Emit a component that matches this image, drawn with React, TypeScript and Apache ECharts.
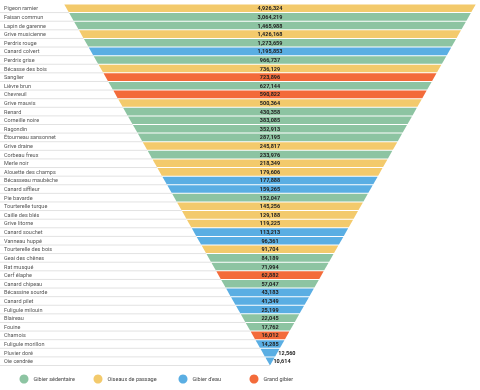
import React, { useEffect, useRef } from "react";
import * as echarts from "echarts";

const names = [
  "Pigeon ramier", "Faisan commun", "Lapin de garenne", "Grive musicienne", "Perdrix rouge",
  "Canard colvert", "Perdrix grise", "Bécasse des bois", "Sanglier", "Lièvre brun",
  "Chevreuil", "Grive mauvis", "Renard", "Corneille noire", "Ragondin",
  "Étourneau sansonnet", "Grive draine", "Corbeau freux", "Merle noir", "Alouette des champs",
  "Bécasseau maubèche", "Canard siffleur", "Pie bavarde", "Tourterelle turque", "Caille des blés",
  "Grive litorne", "Canard souchet", "Vanneau huppé", "Tourterelle des bois", "Geai des chênes",
  "Rat musqué", "Cerf élaphe", "Canard chipeau", "Bécassine sourde", "Canard pilet",
  "Fuligule milouin", "Blaireau", "Fouine", "Chamois", "Fuligule morillon",
  "Pluvier doré", "Oie cendrée",
];

const values = [
  4926324, 3064219, 1465988, 1426168, 1273659,
  1195853, 966737, 736129, 723896, 627144,
  590822, 500364, 430358, 383085, 352913,
  287195, 245817, 233976, 218349, 179606,
  177888, 159265, 152047, 145256, 129188,
  119225, 113213, 96361, 91704, 84189,
  71994, 62882, 57047, 43183, 41349,
  25199, 22045, 17762, 16012, 14285,
  12560, 10614,
];

// 0 = Gibier sédentaire, 1 = Oiseaux de passage, 2 = Gibier d'eau, 3 = Grand gibier
const groups = [
  1, 0, 0, 1, 0,
  2, 0, 1, 3, 0,
  3, 1, 0, 0, 0,
  0, 1, 0, 1, 1,
  2, 2, 0, 1, 1,
  1, 2, 2, 1, 0,
  0, 3, 0, 2, 2,
  2, 0, 0, 3, 2,
  2, 2,
];

const groupNames = ["Gibier sédentaire", "Oiseaux de passage", "Gibier d'eau", "Grand gibier"];
const groupColors = ["#8DC4A2", "#F3CA6C", "#5AAEE3", "#F36B3A"];
const legendLefts = [19.5, 93.5, 178.5, 249.5];

export default function App() {
  const ref = useRef<HTMLDivElement>(null);

  useEffect(() => {
    if (!ref.current) return;
    const chart = echarts.init(ref.current, null, { renderer: "svg" });
    const n = names.length;

    const renderItem = (params: any, api: any) => {
      const i = api.value(0);
      const val = api.value(1);
      const c = api.coord([0, i]);
      const h = api.size([0, 1])[1];
      const yTop = c[1] - h / 2;
      const yBot = c[1] + h / 2;
      const L = (t: number) => api.coord([-1 + t, i])[0];
      const R = (t: number) => api.coord([1 - t, i])[0];
      const g = 0.5;
      const tA = (i + g / h) / n;
      const tB = (i + 1 - g / h) / n;
      const t1 = (i + 1) / n;
      const tc = (i + 0.5) / n;
      const color = api.visual("color");
      const text = Number(val).toLocaleString("en-US");
      const textW = text.length * 2.9;
      const bandW = R(tc) - L(tc);
      const inside = bandW >= textW + 4;
      return {
        type: "group",
        children: [
          {
            type: "line",
            shape: { x1: 0, y1: yBot, x2: L(t1), y2: yBot },
            style: { stroke: "#E2E2E2", lineWidth: 1 },
          },
          {
            type: "polygon",
            shape: {
              points: [
                [L(tA), yTop + g],
                [R(tA), yTop + g],
                [R(tB), yBot - g],
                [L(tB), yBot - g],
              ],
            },
            style: { fill: color },
          },
          {
            type: "text",
            style: {
              text,
              x: inside ? c[0] : R(tc) + 1,
              y: c[1],
              align: inside ? "center" : "left",
              verticalAlign: "middle",
              fill: "#222",
              fontSize: 5.5,
              fontWeight: "bold",
              fontFamily: "Roboto",
            },
          },
        ],
      };
    };

    const series = groupNames.map((gname, gi) => ({
      type: "custom",
      name: gname,
      itemStyle: { color: groupColors[gi] },
      encode: { y: 0, x: 1 },
      renderItem,
      data: values
        .map((v, i) => [i, v, groups[i]])
        .filter((d) => d[2] === gi)
        .map((d) => [d[0], d[1]]),
    }));

    chart.setOption({
      animation: false,
      grid: { left: 64, right: 4, top: 4, bottom: 24.5, containLabel: false },
      xAxis: {
        type: "value",
        min: -1,
        max: 1,
        show: false,
      },
      yAxis: {
        type: "category",
        inverse: true,
        data: names,
        axisLine: { show: false },
        axisTick: { show: false },
        splitLine: { show: false },
        axisLabel: {
          align: "left",
          margin: 60,
          fontSize: 5.5,
          color: "#555",
          fontFamily: "Roboto",
        },
      },
      legend: groupNames.map((gname, gi) => ({
        data: [gname],
        left: legendLefts[gi],
        top: 374.5,
        padding: 0,
        icon: "circle",
        itemWidth: 9,
        itemHeight: 9,
        selectedMode: false,
        textStyle: { fontSize: 5.5, color: "#444", fontFamily: "Roboto" },
      })),
      series,
    });

    return () => chart.dispose();
  }, []);

  return (
    <div
      ref={ref}
      style={{ position: "fixed", left: 0, top: 0, width: 480, height: 390 }}
    />
  );
}
